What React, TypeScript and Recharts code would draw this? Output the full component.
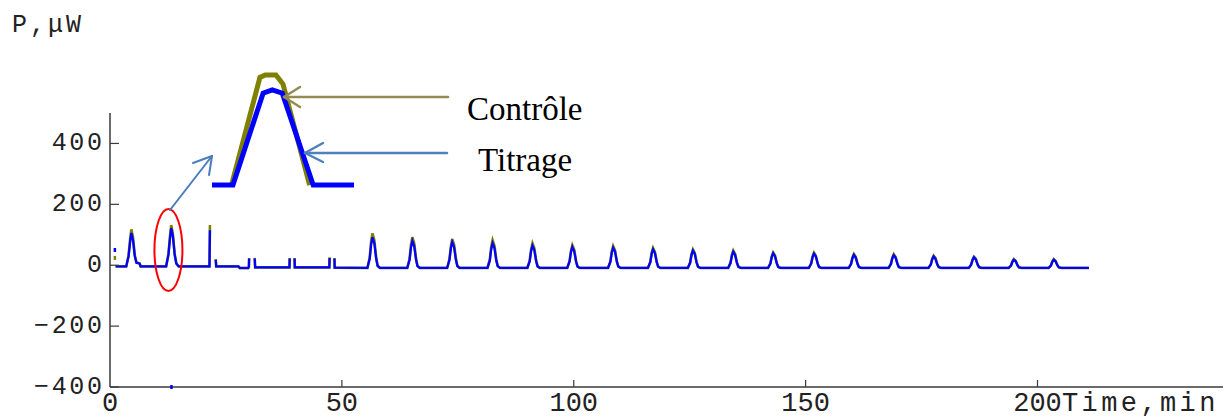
import React from 'react';
import { ComposedChart, LineChart, Line, XAxis, YAxis, ReferenceDot } from 'recharts';

// Main trace: time (min), Contrôle and Titrage heat flow (µW)
const time = [
  1.2,
  3.5, 4.0, 4.35, 4.6, 4.95, 5.35, 5.7, 6.4, 6.6,
  12.1, 12.6, 12.95, 13.2, 13.55, 13.95, 14.3, 14.8,
  21.45, 21.55, 21.7, 22.8, 22.9,
  27.7, 28.0, 29.8, 29.95, 30.0, 30.6, 31.2, 31.3,
  38.7, 38.75, 39.3, 39.8, 39.85,
  47.3, 47.35, 47.9, 48.4, 48.45,
  55.5, 56.0, 56.3, 56.6, 57.0, 57.4, 57.7, 58.2,
  64.1, 64.6, 64.9, 65.2, 65.6, 66.0, 66.3, 66.8,
  72.7, 73.2, 73.5, 73.8, 74.2, 74.6, 74.9, 75.4,
  81.4, 81.9, 82.2, 82.5, 82.9, 83.3, 83.6, 84.1,
  90.0, 90.5, 90.8, 91.1, 91.5, 91.9, 92.2, 92.7,
  98.6, 99.1, 99.4, 99.7, 100.1, 100.5, 100.8, 101.3,
  107.4, 107.9, 108.2, 108.5, 108.9, 109.3, 109.6, 110.1,
  116.0, 116.5, 116.8, 117.1, 117.5, 117.9, 118.2, 118.7,
  124.6, 125.1, 125.4, 125.7, 126.1, 126.5, 126.8, 127.3,
  133.3, 133.8, 134.1, 134.4, 134.8, 135.2, 135.5, 136.0,
  141.9, 142.4, 142.7, 143.0, 143.4, 143.8, 144.1, 144.6,
  150.7, 151.2, 151.5, 151.8, 152.2, 152.6, 152.9, 153.4,
  159.3, 159.8, 160.1, 160.4, 160.8, 161.2, 161.5, 162.0,
  167.9, 168.4, 168.7, 169.0, 169.4, 169.8, 170.1, 170.6,
  176.5, 177.0, 177.3, 177.6, 178.0, 178.4, 178.7, 179.2,
  185.2, 185.7, 186.0, 186.3, 186.7, 187.1, 187.4, 187.9,
  193.8, 194.3, 194.6, 194.9, 195.3, 195.7, 196.0, 196.5,
  202.4, 202.9, 203.2, 203.5, 203.9, 204.3, 204.6, 205.1,
  211.1,
];

const controle: (number | null)[] = [
  -4,
  -4, 32, 87, 118, 93, 33, 10, 6, -4,
  -4, 37, 97, 132, 104, 37, 6, -4,
  -4, 132, null, 20, -4,
  -4, -10, -10, -6, 24, null, 24, -7,
  -7, 24, null, 24, -7,
  -7, 26, null, 24, -8,
  -9, 25, 77, 105, 82, 25, -1, -9,
  -9, 21, 67, 92, 72, 21, -2, -9,
  -9, 20, 62, 86, 67, 20, -2, -9,
  -9, 19, 60, 83, 65, 19, -3, -9,
  -9, 15, 52, 72, 56, 15, -3, -9,
  -9, 14, 47, 66, 51, 14, -4, -9,
  -9, 13, 45, 63, 49, 13, -4, -9,
  -9, 11, 41, 57, 44, 11, -4, -9,
  -9, 9, 37, 52, 40, 9, -5, -9,
  -9, 8, 34, 48, 37, 8, -5, -9,
  -9, 6, 29, 42, 32, 6, -5, -9,
  -9, 6, 29, 41, 31, 6, -6, -9,
  -9, 5, 26, 37, 28, 5, -6, -9,
  -9, 5, 25, 36, 27, 5, -6, -9,
  -9, 3, 21, 31, 23, 3, -6, -9,
  -9, 2, 19, 28, 21, 2, -6, -9,
  -9, 0, 13, 20, 14, 0, -7, -9,
  -9, 0, 13, 20, 14, 0, -7, -9,
  -9,
];

const titrage: (number | null)[] = [
  -4,
  -4, 29, 78, 106, 83, 29, 8, 5, -4,
  -4, 34, 90, 122, 96, 34, 6, -4,
  -4, 115, null, 18, -4,
  -4, -9, -9, -5, 22, null, 22, -7,
  -7, 22, null, 22, -7,
  -7, 24, null, 22, -8,
  -9, 21, 67, 92, 72, 21, -2, -9,
  -9, 18, 58, 80, 62, 18, -3, -9,
  -9, 17, 55, 76, 59, 17, -3, -9,
  -9, 15, 52, 72, 56, 15, -3, -9,
  -9, 13, 46, 64, 49, 13, -4, -9,
  -9, 12, 43, 60, 46, 12, -4, -9,
  -9, 11, 41, 57, 44, 11, -4, -9,
  -9, 9, 37, 52, 40, 9, -5, -9,
  -9, 8, 34, 48, 37, 8, -5, -9,
  -9, 7, 31, 44, 33, 7, -5, -9,
  -9, 5, 27, 39, 29, 5, -6, -9,
  -9, 5, 26, 38, 29, 5, -6, -9,
  -9, 4, 23, 34, 25, 4, -6, -9,
  -9, 4, 23, 33, 25, 4, -6, -9,
  -9, 2, 20, 29, 21, 2, -6, -9,
  -9, 2, 17, 26, 19, 2, -7, -9,
  -9, -1, 11, 18, 13, -1, -7, -9,
  -9, -1, 11, 18, 13, -1, -7, -9,
  -9,
];

// Zoomed inset of the second injection peak
const insetTime = [11.5, 12.05, 12.09, 12.85, 12.94, 13.0, 13.2, 13.3, 13.48, 13.5, 14.25, 14.35, 15.5];
const insetControle: (number | null)[] = [null, -2, null, 128, null, 131, null, 131, null, 120, -2, null, null];
const insetTitrage: (number | null)[] = [-2, null, -2, null, 109, null, 113, null, 109, null, null, -2, -2];

// Stray marks
const markTime = [1.0, 1.0, 13.2];
const markValue = [50, 24, -400];
const markSeries = ['titrage', 'controle', 'titrage'];

const xTicks = [0, 50, 100, 150, 200];
const yTicks = [-400, -200, 0, 200, 400];

const rows = time.map((t, i) => ({ t, controle: controle[i], titrage: titrage[i] }));
const insetRows = insetTime.map((t, i) => ({ t, controle: insetControle[i], titrage: insetTitrage[i] }));

const OLIVE = '#808000';
const BLUE = '#0000ff';
const AXIS = '#3a3a3a';
const MONO = '"Liberation Mono", "Courier New", monospace';

const fmt = (v: number) => (v < 0 ? '\u2212' + Math.abs(v) : String(v));

const XTick = (props: any) => {
  const { x, y, payload } = props;
  return (
    <g>
      {payload.value !== 0 && <line x1={x} x2={x} y1={y} y2={y - 7} stroke={AXIS} strokeWidth={1.2} />}
      <text x={x} y={y + 23.5} textAnchor="middle" fontFamily={MONO} fontSize={27} fill="#222">
        {fmt(payload.value)}
      </text>
    </g>
  );
};

const YTick = (props: any) => {
  const { x, y, payload } = props;
  return (
    <g>
      <line x1={x} x2={x + 9} y1={y} y2={y} stroke={AXIS} strokeWidth={1.2} />
      <text x={x - 5.5} y={y + 6.5} textAnchor="end" fontFamily={MONO} fontSize={25} letterSpacing={2.6} fill="#222">
        {fmt(payload.value)}
      </text>
    </g>
  );
};

const Arrow = ({ x1, y1, x2, y2, a1, a2, color, w }: any) => (
  <g stroke={color} strokeWidth={w} fill="none" strokeLinecap="round">
    <line x1={x1} y1={y1} x2={x2} y2={y2} />
    <line x1={x2} y1={y2} x2={a1[0]} y2={a1[1]} />
    <line x1={x2} y1={y2} x2={a2[0]} y2={a2[1]} />
  </g>
);

export default function App() {
  return (
    <div style={{ position: 'absolute', left: 0, top: 0, width: 1229, height: 417, background: '#fff' }}>
      <ComposedChart
        width={1229}
        height={417}
        data={rows}
        margin={{ top: 113, right: 6, bottom: 0, left: 50 }}
      >
        <XAxis
          dataKey="t"
          type="number"
          domain={[0, 240]}
          ticks={xTicks}
          interval={0}
          height={30}
          tickSize={0}
          tickMargin={0}
          tickLine={false}
          axisLine={{ stroke: AXIS, strokeWidth: 1.5 }}
          tick={<XTick />}
        />
        <YAxis
          type="number"
          domain={[-400, 500]}
          ticks={yTicks}
          interval={0}
          width={60}
          tickSize={0}
          tickMargin={0}
          tickLine={false}
          axisLine={{ stroke: AXIS, strokeWidth: 1.5 }}
          tick={<YTick />}
          allowDataOverflow
        />
        <Line dataKey="controle" stroke={OLIVE} strokeWidth={2.6} dot={false} isAnimationActive={false} connectNulls={false} />
        <Line dataKey="titrage" stroke={BLUE} strokeWidth={2.3} dot={false} isAnimationActive={false} connectNulls={false} />
        {markTime.map((t, i) => (
          <ReferenceDot
            key={i}
            x={t}
            y={markValue[i]}
            ifOverflow="visible"
            shape={(p: any) => (
              <rect x={p.cx - 1} y={p.cy - 2} width={2.5} height={4} fill={markSeries[i] === 'titrage' ? BLUE : OLIVE} />
            )}
          />
        ))}
        <ReferenceDot
          x={12.6}
          y={50}
          shape={(p: any) => <ellipse cx={p.cx} cy={p.cy} rx={14} ry={41} fill="none" stroke="#ff0000" strokeWidth={2} />}
        />
      </ComposedChart>

      <div style={{ position: 'absolute', left: 212, top: 60 }}>
        <LineChart width={142} height={130} data={insetRows} margin={{ top: 0, right: 0, bottom: 0, left: 0 }}>
          <XAxis dataKey="t" type="number" domain={[11.5, 15.5]} hide />
          <YAxis type="number" domain={[-8, 149]} hide />
          <Line dataKey="controle" stroke={OLIVE} strokeWidth={5} dot={false} isAnimationActive={false} connectNulls />
          <Line dataKey="titrage" stroke={BLUE} strokeWidth={5} dot={false} isAnimationActive={false} connectNulls />
        </LineChart>
      </div>

      <svg width={1229} height={417} style={{ position: 'absolute', left: 0, top: 0, pointerEvents: 'none' }}>
        <text x={12} y={32} fontFamily={MONO} fontSize={25} letterSpacing={3} fill="#222">P,μW</text>
        <text x={1062} y={410.5} fontFamily={MONO} fontSize={27} letterSpacing={3.4} fill="#222">Time,min</text>
        <Arrow x1={170} y1={210} x2={212} y2={156} a1={[193, 163]} a2={[209, 175]} color="#4a7ebb" w={2} />
        <Arrow x1={448} y1={97} x2={284} y2={97} a1={[300, 87]} a2={[300, 107]} color="#948a54" w={2.5} />
        <Arrow x1={447} y1={153} x2={305} y2={153} a1={[323, 143]} a2={[323, 162]} color="#4f81bd" w={2.5} />
        <text x={467} y={120} fontFamily='"Liberation Serif", serif' fontSize={33} fill="#000">Contrôle</text>
        <text x={478} y={171} fontFamily='"Liberation Serif", serif' fontSize={33} fill="#000">Titrage</text>
      </svg>
    </div>
  );
}
